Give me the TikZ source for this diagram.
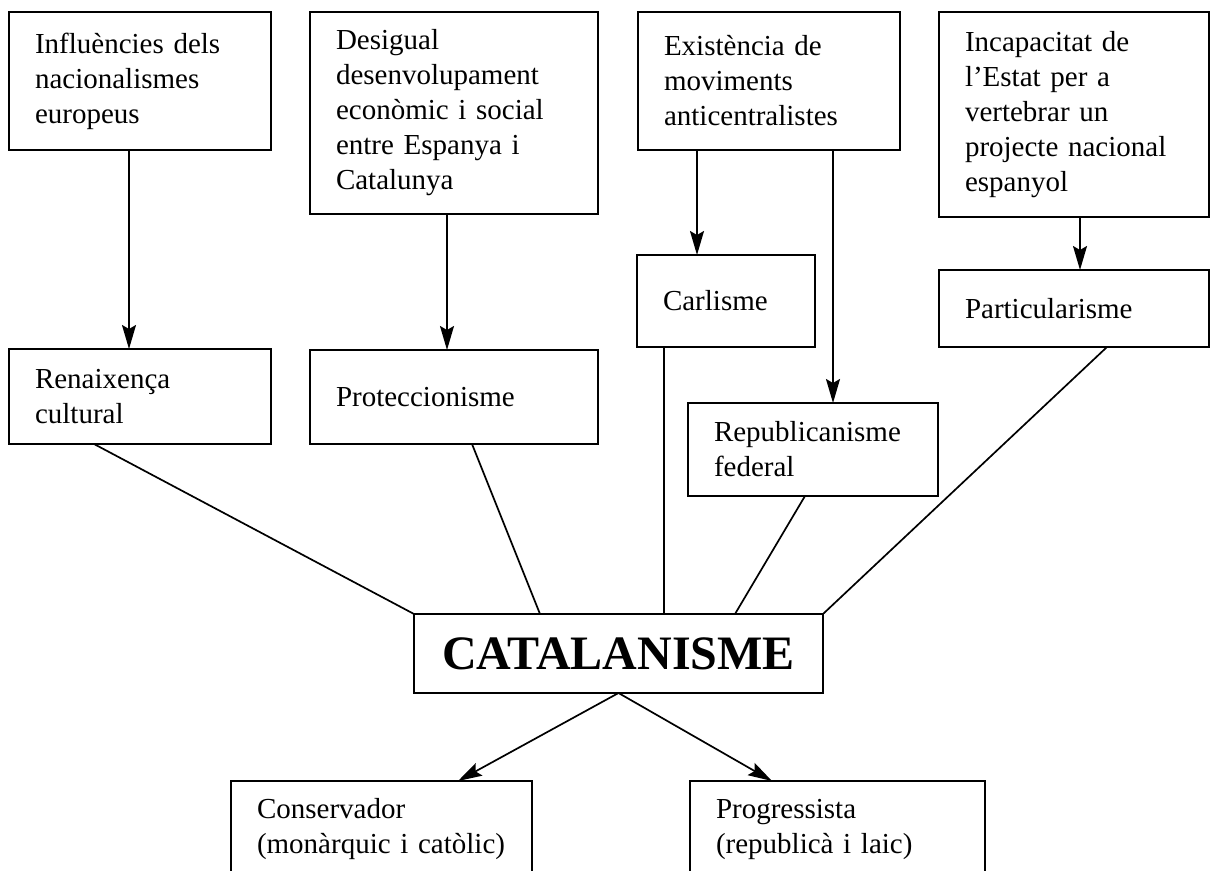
\documentclass[tikz,border=0pt]{standalone}
\usepackage{fontspec}
\setmainfont{Liberation Serif}
\usetikzlibrary{arrows.meta}

\begin{document}
\begin{tikzpicture}[x=0.5pt, y=-0.5pt, line width=0.85pt,
		box/.style={draw, rectangle, anchor=north west, align=left, outer sep=0pt,
			inner xsep=13pt, inner ysep=0pt, font=\fontsize{14.5pt}{17.5pt}\selectfont},
		hub/.style={draw, rectangle, anchor=north west, outer sep=0pt, inner sep=0pt,
			minimum width=204.5pt, minimum height=39.5pt, font=\fontsize{24pt}{28pt}\selectfont\bfseries},
		arr/.style={-{Stealth[length=12pt, width=7pt, inset=2pt]}}]
	\useasboundingbox (0,0) rectangle (1211,871);
	% causes
	\node[box, text width=105pt, minimum height=69pt] (infl) at (9,12) {Influències dels\\nacionalismes\\europeus};
	\node[box, text width=118pt, minimum height=101pt] (desig) at (310,12) {Desigual\\desenvolupament\\econòmic i social\\entre Espanya i\\Catalunya};
	\node[box, text width=105pt, minimum height=69pt] (exist) at (638,12) {Existència de\\moviments\\anticentralistes};
	\node[box, text width=109pt, minimum height=102.5pt] (incap) at (939,12) {Incapacitat de\\l’Estat per a\\vertebrar un\\projecte nacional\\espanyol};
	% currents
	\node[box, text width=105pt, minimum height=47.5pt] (renaix) at (9,349) {Renaixença\\cultural};
	\node[box, text width=118pt, minimum height=47pt] (protec) at (310,350) {Proteccionisme};
	\node[box, text width=63pt, minimum height=46pt] (carl) at (637,255) {Carlisme};
	\node[box, text width=109pt, minimum height=38.5pt] (partic) at (939,270) {Particularisme};
	\node[box, text width=99pt, minimum height=46.5pt] (repub) at (688,403) {Republicanisme\\federal};
	% catalanisme and its two branches
	\node[hub] (catal) at (414,614) {CATALANISME};
	\node[box, text width=124.5pt, minimum height=48pt] (conserv) at (231,781) {Conservador\\(monàrquic i catòlic)};
	\node[box, text width=121.5pt, minimum height=48pt] (progr) at (690,781) {Progressista\\(republicà i laic)};

	\coordinate (a1) at ([xshift=-5.5pt]infl.south);
	\coordinate (a2) at ([xshift=-3.5pt]desig.south);
	\coordinate (a3) at ([xshift=-36pt]exist.south);
	\coordinate (a4) at ([xshift=32pt]exist.south);
	\coordinate (a5) at ([xshift=3pt]incap.south);
	\coordinate (c1) at ([xshift=13.5pt]carl.south west);
	\draw[arr] (a1) -- (a1 |- renaix.north);
	\draw[arr] (a2) -- (a2 |- protec.north);
	\draw[arr] (a3) -- (a3 |- carl.north);
	\draw[arr] (a4) -- (a4 |- repub.north);
	\draw[arr] (a5) -- (a5 |- partic.north);

	\draw ([xshift=42.5pt]renaix.south west) -- (catal.north west);
	\draw ([xshift=81pt]protec.south west) -- ([xshift=63pt]catal.north west);
	\draw (c1) -- (c1 |- catal.north);
	\draw ([xshift=58.5pt]repub.south west) -- ([xshift=160.5pt]catal.north west);
	\draw ([xshift=84pt]partic.south west) -- (catal.north east);

	\draw[arr] (catal.south) -- ([xshift=113.5pt]conserv.north west);
	\draw[arr] (catal.south) -- ([xshift=41pt]progr.north west);
\end{tikzpicture}
\end{document}
